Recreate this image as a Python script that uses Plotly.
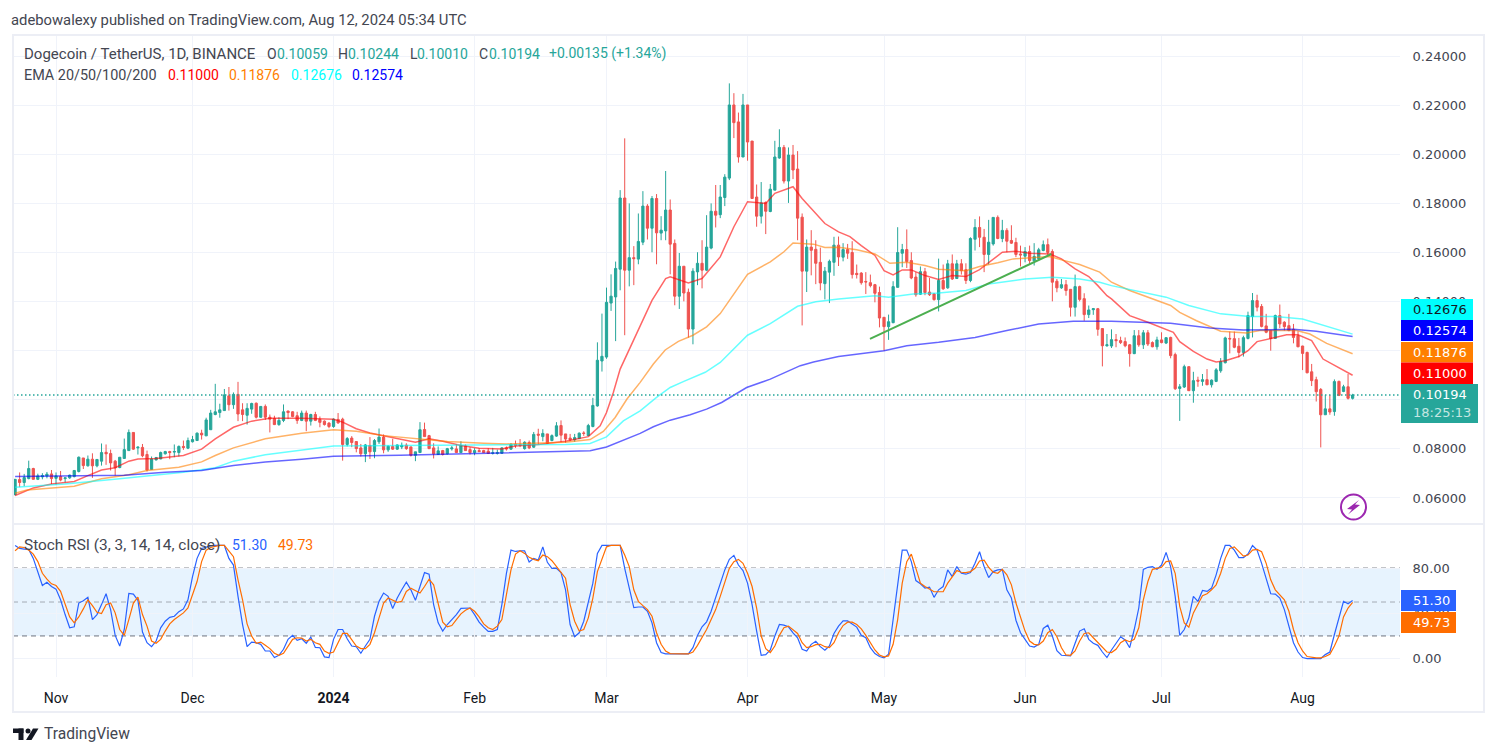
import pandas as pd
import plotly.graph_objects as go

START = "2023-10-23"

OPENS = [
    .0614,.0675,.0663,.0679,.0720,.0676,.0686,.0690,.0698,.0680,
    .0687,.0679,.0682,.0687,.0708,.0763,.0731,.0758,.0731,.0750,
    .0786,.0781,.0750,.0724,.0761,.0793,.0867,.0804,.0806,.0777,
    .0716,.0755,.0759,.0780,.0789,.0787,.0785,.0810,.0803,.0829,
    .0834,.0864,.0853,.0878,.0940,.0948,.0956,.1016,.0980,.1022,
    .0959,.0937,.0962,.0986,.0929,.0973,.0929,.0924,.0899,.0916,
    .0954,.0951,.0935,.0916,.0946,.0913,.0940,.0920,.0913,.0905,
    .0891,.0920,.0921,.0818,.0844,.0830,.0804,.0780,.0814,.0789,
    .0829,.0848,.0796,.0810,.0799,.0808,.0815,.0808,.0774,.0785,
    .0879,.0854,.0804,.0777,.0793,.0780,.0800,.0800,.0785,.0812,
    .0797,.0785,.0793,.0793,.0791,.0782,.0782,.0782,.0804,.0799,
    .0819,.0818,.0801,.0826,.0807,.0860,.0850,.0861,.0834,.0852,
    .0895,.0861,.0844,.0837,.0842,.0865,.0854,.0891,.0975,.1158,
    .1174,.1394,.1419,.1532,.1822,.1528,.1579,.1573,.1642,.1789,
    .1699,.1820,.1679,.1688,.1773,.1637,.1422,.1544,.1438,.1288,
    .1521,.1556,.1528,.1618,.1768,.1754,.1824,.1903,.2201,.2132,
    .1989,.2201,.2054,.1826,.1748,.1804,.1767,.1854,.1985,.2028,
    .1891,.1997,.1940,.1744,.1524,.1622,.1613,.1560,.1473,.1520,
    .1560,.1630,.1581,.1612,.1600,.1515,.1516,.1482,.1477,.1469,
    .1437,.1336,.1298,.1314,.1458,.1597,.1612,.1567,.1500,.1430,
    .1522,.1439,.1431,.1408,.1486,.1456,.1554,.1494,.1554,.1530,
    .1486,.1654,.1702,.1662,.1592,.1635,.1743,.1657,.1690,.1649,
    .1641,.1594,.1585,.1604,.1566,.1575,.1608,.1632,.1604,.1483,
    .1456,.1469,.1450,.1377,.1461,.1412,.1347,.1367,.1371,.1290,
    .1220,.1219,.1245,.1241,.1237,.1224,.1188,.1261,.1224,.1273,
    .1233,.1216,.1244,.1231,.1254,.1184,.1046,.1052,.1135,.1037,
    .1080,.1075,.1082,.1061,.1075,.1118,.1151,.1250,.1249,.1218,
    .1193,.1250,.1339,.1404,.1380,.1301,.1282,.1250,.1343,.1316,
    .1302,.1287,.1261,.1219,.1193,.1114,.1082,.1042,.0939,.0963,
    .0952,.1075,.1034,.1053,.10059,
]
HIGHS = [
    .0677,.0704,.0698,.0752,.0723,.0699,.0701,.0706,.0714,.0704,
    .0710,.0682,.0695,.0714,.0769,.0763,.0773,.0782,.0757,.0822,
    .0818,.0797,.0755,.0766,.0842,.0879,.0867,.0810,.0820,.0793,
    .0769,.0767,.0789,.0792,.0792,.0818,.0814,.0834,.0846,.0853,
    .0867,.0878,.0927,.0959,.1065,.0984,.1044,.1052,.1030,.1073,
    .0986,.0986,.0988,.0989,.0974,.0981,.0940,.0935,.0929,.0981,
    .0956,.0954,.0951,.0956,.0956,.0943,.0951,.0932,.0916,.0909,
    .0924,.0946,.0927,.0848,.0852,.0830,.0820,.0820,.0848,.0840,
    .0883,.0859,.0814,.0841,.0818,.0826,.0823,.0810,.0788,.0909,
    .0907,.0857,.0823,.0810,.0796,.0804,.0812,.0818,.0831,.0818,
    .0807,.0803,.0803,.0796,.0803,.0804,.0797,.0807,.0810,.0822,
    .0834,.0840,.0831,.0834,.0869,.0882,.0880,.0861,.0859,.0909,
    .0916,.0861,.0861,.0861,.0867,.0872,.0902,.1008,.1234,.1351,
    .1457,.1511,.1563,.1854,.2065,.1800,.1626,.1759,.1850,.1797,
    .1830,.1838,.1748,.1932,.1816,.1653,.1598,.1544,.1453,.1536,
    .1601,.1650,.1752,.1800,.1875,.1875,.1919,.2289,.2249,.2170,
    .2246,.2201,.2054,.1877,.1887,.1808,.1879,.2055,.2102,.2038,
    .2028,.2038,.2013,.1759,.1653,.1691,.1650,.1620,.1541,.1571,
    .1664,.1665,.1638,.1635,.1646,.1551,.1520,.1520,.1510,.1472,
    .1461,.1336,.1347,.1483,.1703,.1635,.1694,.1601,.1520,.1543,
    .1537,.1496,.1435,.1575,.1551,.1570,.1592,.1570,.1573,.1556,
    .1662,.1736,.1747,.1696,.1733,.1744,.1751,.1733,.1699,.1711,
    .1660,.1628,.1622,.1628,.1638,.1619,.1649,.1657,.1613,.1492,
    .1492,.1488,.1450,.1510,.1465,.1434,.1384,.1374,.1374,.1292,
    .1268,.1287,.1268,.1257,.1254,.1227,.1284,.1284,.1284,.1284,
    .1238,.1257,.1275,.1254,.1257,.1192,.1064,.1143,.1135,.1114,
    .1094,.1105,.1125,.1083,.1129,.1170,.1257,.1278,.1278,.1252,
    .1261,.1359,.1435,.1428,.1390,.1350,.1282,.1347,.1388,.1320,
    .1350,.1309,.1279,.1220,.1196,.1146,.1094,.1048,.1020,.1019,
    .1083,.1078,.1061,.1105,.10244,
]
LOWS = [
    .0610,.0644,.0648,.0676,.0675,.0673,.0676,.0680,.0657,.0655,
    .0668,.0663,.0678,.0684,.0704,.0718,.0728,.0682,.0725,.0732,
    .0735,.0712,.0691,.0721,.0761,.0793,.0796,.0777,.0766,.0708,
    .0714,.0753,.0758,.0777,.0758,.0766,.0769,.0796,.0799,.0826,
    .0833,.0838,.0853,.0878,.0937,.0927,.0956,.0956,.0963,.0913,
    .0913,.0899,.0943,.0924,.0927,.0918,.0867,.0897,.0894,.0909,
    .0921,.0929,.0902,.0913,.0872,.0895,.0913,.0888,.0895,.0884,
    .0886,.0902,.0752,.0810,.0807,.0786,.0769,.0746,.0759,.0762,
    .0820,.0782,.0788,.0796,.0796,.0799,.0796,.0769,.0750,.0785,
    .0850,.0799,.0761,.0777,.0773,.0777,.0793,.0784,.0784,.0792,
    .0777,.0774,.0789,.0784,.0780,.0777,.0777,.0780,.0793,.0796,
    .0804,.0807,.0797,.0799,.0804,.0818,.0831,.0820,.0831,.0849,
    .0827,.0825,.0831,.0829,.0840,.0853,.0854,.0888,.0972,.1115,
    .1167,.1362,.1239,.1446,.1263,.1462,.1467,.1552,.1630,.1653,
    .1601,.1552,.1650,.1650,.1511,.1385,.1370,.1401,.1253,.1226,
    .1467,.1454,.1524,.1613,.1702,.1740,.1789,.1895,.2066,.1966,
    .1989,.1974,.1820,.1705,.1718,.1675,.1764,.1854,.1982,.1881,
    .1802,.1899,.1650,.1303,.1439,.1507,.1471,.1446,.1409,.1394,
    .1505,.1545,.1564,.1574,.1494,.1494,.1469,.1431,.1458,.1397,
    .1295,.1200,.1244,.1312,.1458,.1540,.1537,.1491,.1420,.1427,
    .1426,.1423,.1404,.1360,.1448,.1452,.1488,.1492,.1510,.1472,
    .1479,.1608,.1622,.1520,.1551,.1628,.1654,.1642,.1601,.1635,
    .1581,.1543,.1560,.1551,.1547,.1567,.1605,.1586,.1401,.1438,
    .1452,.1424,.1339,.1339,.1401,.1322,.1333,.1346,.1261,.1136,
    .1216,.1211,.1214,.1227,.1214,.1135,.1186,.1216,.1207,.1219,
    .1214,.1204,.1230,.1227,.1169,.1040,.0914,.1048,.1037,.0988,
    .1053,.1057,.1060,.1050,.1072,.1110,.1148,.1189,.1210,.1173,
    .1176,.1246,.1254,.1360,.1295,.1271,.1200,.1248,.1292,.1282,
    .1279,.1230,.1214,.1121,.1108,.1056,.0993,.0806,.0939,.0939,
    .0935,.1015,.1031,.1001,.10010,
]
CLOSES = [
    .0676,.0663,.0683,.0720,.0676,.0690,.0691,.0697,.0679,.0690,
    .0673,.0682,.0693,.0712,.0766,.0732,.0758,.0731,.0757,.0785,
    .0780,.0743,.0723,.0766,.0797,.0867,.0799,.0807,.0772,.0714,
    .0759,.0765,.0785,.0789,.0785,.0789,.0810,.0806,.0834,.0838,
    .0864,.0857,.0918,.0946,.0951,.0959,.1020,.0980,.1022,.0942,
    .0940,.0965,.0985,.0929,.0973,.0929,.0921,.0899,.0916,.0951,
    .0948,.0932,.0916,.0946,.0913,.0940,.0916,.0908,.0899,.0891,
    .0921,.0906,.0818,.0842,.0826,.0801,.0780,.0816,.0788,.0834,
    .0848,.0796,.0811,.0799,.0816,.0814,.0801,.0774,.0788,.0878,
    .0850,.0801,.0780,.0792,.0777,.0801,.0804,.0785,.0814,.0793,
    .0785,.0793,.0789,.0785,.0781,.0784,.0784,.0804,.0800,.0819,
    .0815,.0814,.0827,.0804,.0859,.0856,.0863,.0823,.0854,.0894,
    .0856,.0840,.0837,.0846,.0864,.0863,.0895,.0977,.1161,.1177,
    .1397,.1422,.1535,.1822,.1528,.1579,.1575,.1645,.1789,.1699,
    .1820,.1680,.1691,.1773,.1634,.1422,.1544,.1435,.1288,.1524,
    .1556,.1528,.1622,.1768,.1752,.1826,.1907,.2201,.2129,.1989,
    .2201,.2050,.1820,.1748,.1802,.1768,.1858,.1989,.2028,.1891,
    .1997,.1936,.1740,.1524,.1622,.1609,.1556,.1476,.1524,.1564,
    .1630,.1582,.1612,.1597,.1510,.1510,.1477,.1480,.1465,.1434,
    .1333,.1298,.1318,.1461,.1600,.1612,.1563,.1496,.1428,.1522,
    .1437,.1428,.1408,.1486,.1452,.1554,.1492,.1554,.1526,.1486,
    .1657,.1702,.1662,.1592,.1642,.1743,.1657,.1690,.1646,.1638,
    .1592,.1590,.1604,.1567,.1584,.1611,.1632,.1600,.1479,.1456,
    .1469,.1445,.1377,.1461,.1409,.1347,.1366,.1371,.1287,.1220,
    .1224,.1245,.1241,.1233,.1220,.1188,.1261,.1224,.1273,.1227,
    .1216,.1244,.1233,.1253,.1180,.1045,.1053,.1135,.1037,.1078,
    .1076,.1082,.1061,.1080,.1122,.1155,.1252,.1248,.1214,.1193,
    .1253,.1343,.1404,.1377,.1299,.1275,.1250,.1343,.1309,.1298,
    .1282,.1254,.1216,.1189,.1110,.1078,.1033,.0939,.0963,.0950,
    .1074,.1018,.1053,.1006,.10194,
]

# Moving averages, sampled at the sessions where each curve bends
EMA20_DAY = [0,4,8,13,16,19,22,25,27,31,37,41,44,48,52,56,63,70,72,75,78,81,85,88,91,94,98,102,107,110,115,121,126,
             128.6,130,131.5,133,137,140,143,144,148,151,155,158,161,165,167,171,173,176,178,181,183.5,186,189,191,193,
             195,197,200,203,206,209,212,215,217,220,223,227.5,230,233,236,238,240,241,245,249,253,254.6,256,259,262,
             264,266,269,271,273,276.5,279.5,282,285,287.5,290.5,294]
EMA20 = [.0610,.0641,.0657,.0667,.0691,.0714,.0723,.0750,.0759,.0761,.0773,.0799,.0841,.0888,.0913,.0925,.0925,.0921,
         .0909,.0882,.0865,.0854,.0841,.0827,.0841,.0831,.0814,.0803,.0800,.0812,.0818,.0831,.0850,
         .0894,.0948,.1030,.1125,.1283,.1405,.1494,.1501,.1476,.1494,.1582,.1705,.1807,.1800,.1841,.1868,.1820,.1759,
         .1718,.1684,.1665,.1628,.1588,.1526,.1509,.1529,.1529,.1506,.1490,.1506,.1502,.1530,.1574,.1601,.1605,.1597,
         .1594,.1574,.1533,.1502,.1465,.1424,.1411,.1343,.1316,.1288,.1275,.1237,.1197,.1166,.1154,.1159,.1176,.1200,
         .1237,.1252,.1265,.1265,.1241,.1166,.1135,.11000]
EMA50_DAY = [0,2.6,13,19,25,29,36,41,44,48,55,63,70,75,81,88,95,103,108,114,121,126.4,129.3,131.9,134.5,137.4,140.3,
             142.9,145.8,149,152,155,158,161,166,169,171,175.5,178,181,185,189,192.3,196,200,203,209,212,216,219.4,
             227.5,230,234,238.4,241,245,254,256,259.7,265,270.7,273.6,281.7,284.6,288.3,294]
EMA50 = [.0619,.0633,.0648,.0678,.0695,.0712,.0725,.0747,.0773,.0804,.0841,.0864,.0878,.0872,.0854,.0841,.0830,.0823,
         .0820,.0823,.0827,.0838,.0871,.0928,.1003,.1071,.1146,.1203,.1238,.1263,.1297,.1351,.1433,.1511,.1562,.1603,
         .1639,.1634,.1620,.1621,.1611,.1594,.1556,.1560,.1547,.1532,.1526,.1543,.1558,.1574,.1584,.1570,.1551,.1520,
         .1479,.1445,.1384,.1356,.1322,.1279,.1272,.1282,.1282,.1268,.1230,.11876]
EMA100_DAY = [0,4,11,23,30,37,44,48,55,63,70,84.6,99,108,121,126.4,130,133.7,137.4,141,144,147,151.7,155,161,166,170,
              172,176,181,189,192,197.4,203,209,214,222,228,234,238.4,241,253,258,265,271.4,277,283,287,294]
EMA100 = [.0644,.0648,.0657,.0678,.0691,.0705,.0723,.0750,.0776,.0796,.0812,.0814,.0815,.0818,.0818,.0822,.0849,.0914,
          .0955,.1010,.1050,.1075,.1112,.1152,.1263,.1310,.1358,.1381,.1399,.1411,.1424,.1418,.1431,.1435,.1445,.1472,
          .1492,.1499,.1492,.1479,.1465,.1418,.1384,.1350,.1339,.1339,.1329,.1306,.12676]
EMA200_DAY = [0,11,24,33,41,48,55,63,70,84.6,99,114,126.4,130,133.7,137.4,140.3,144,148.4,152,155.3,160.8,166,172.6,
              175.5,181,191,196,203,211,218,225,232.6,241,254,262.6,270,281,286,294]
EMA200 = [.0687,.0690,.0693,.0705,.0712,.0732,.0747,.0758,.0770,.0774,.0780,.0786,.0792,.0808,.0837,.0863,.0890,.0917,
          .0939,.0962,.0989,.1050,.1084,.1139,.1154,.1176,.1200,.1220,.1234,.1254,.1282,.1309,.1320,.1320,.1312,.1292,
          .1284,.1287,.1279,.12574]

STOCH_K = [
    100,97.4,96.8,96.5,88.6,76.9,64.6,67.5,63.7,61.4,52.0,38.9,27.2,28.1,49.1,51.2,54.1,34.5,38.9,47.7,
    57.3,43.3,20.5,11.1,25.7,57.6,57.0,51.5,23.4,14.0,10.5,15.5,27.2,33.0,36.5,37.4,41.5,43.9,52.0,72.5,
    88.6,97.4,98.8,99.7,100,100,100,88.6,82.7,55.0,30.1,10.5,14.6,14.0,12.6,6.7,6.7,0.9,2.9,8.2,
    17.0,20.5,16.1,17.5,13.5,19.0,9.9,9.6,1.5,0.9,17.0,25.7,25.7,17.5,11.1,10.5,4.7,11.1,17.0,37.4,
    50.6,57.9,55.0,44.2,53.5,60.8,67.5,60.8,51.5,63.7,76.0,74.6,47.7,31.6,24.3,30.1,34.5,38.9,44.4,44.4,
    44.7,38.9,32.2,27.8,24.0,24.0,25.7,47.7,75.4,95.9,94.7,95.3,95.3,85.4,88.6,87.1,98.8,85.1,79.8,79.8,
    76.0,60.8,30.1,19.3,22.8,33.0,50.6,66.7,93.0,100,100,100,100,100,79.8,63.7,45.0,45.6,45.6,41.8,
    31.6,14.0,5.3,4.1,4.1,4.1,4.1,4.1,4.1,9.6,20.5,28.1,32.5,41.8,53.5,65.2,78.4,87.7,91.2,82.7,
    77.8,66.7,47.7,24.3,2.9,3.5,7.6,19.9,30.1,29.5,28.1,22.8,18.4,8.2,6.7,12.6,15.2,10.5,7.3,11.1,
    22.2,28.7,33.3,33.3,30.4,27.8,20.5,18.4,9.6,4.4,1.8,0.6,3.8,34.5,65.2,95.9,95.9,85.7,69.0,66.1,
    62.3,63.2,54.1,60.8,63.7,78.4,72.5,81.3,75.4,74.6,76.0,84.2,94.4,81.3,71.6,76.9,78.4,78.9,60.8,53.5,
    33.9,22.8,17.0,11.1,10.2,12.6,26.6,29.5,19.9,7.0,2.9,2.3,2.3,13.5,24.3,26.3,17.0,13.5,11.7,5.8,
    0.9,7.6,14.0,19.3,16.4,9.6,25.7,44.7,78.9,80.7,81.3,78.9,82.7,93.9,81.3,55.0,20.5,25.7,36.0,55.0,
    50.6,60.2,59.4,62.3,74.0,88.6,100,100,95.9,89.2,89.2,92.4,100,95.9,84.2,71.1,57.3,57.0,53.5,43.3,
    28.7,14.0,5.8,0.9,0,0,0,0,3.5,5.8,21.3,35.1,50.6,48.5,51.30,
]
STOCH_D = [
    95.3,98.8,98.2,95.9,92.4,85.7,75.4,70.2,66.1,64.6,59.4,47.7,36.8,31.6,36.8,43.9,52.0,46.8,40.9,39.8,
    47.7,49.1,40.4,25.7,20.5,34.5,49.1,54.4,38.9,28.7,15.5,13.5,17.0,24.3,30.7,34.5,37.4,40.4,44.7,56.4,
    68.1,85.7,95.9,98.2,99.4,100,100,95.3,90.1,69.6,52.0,30.7,19.9,13.5,14.6,11.7,8.8,4.7,2.9,4.7,
    10.5,17.0,18.4,18.1,15.5,17.0,14.0,12.6,6.7,4.7,5.8,14.0,22.2,22.2,17.0,11.1,8.8,8.8,12.6,22.8,
    36.0,49.1,53.5,51.5,49.7,50.6,59.4,62.3,59.9,57.9,63.7,70.2,65.2,47.7,32.2,28.1,29.2,34.5,39.5,42.7,
    44.7,41.8,36.8,30.7,27.2,25.7,28.7,34.5,56.4,78.4,92.4,95.3,93.0,89.5,87.7,86.5,91.5,90.1,86.5,81.3,
    76.9,71.1,47.7,33.0,24.3,25.7,36.0,53.5,76.9,88.6,98.8,100,100,100,91.5,81.3,60.8,50.6,46.8,43.3,
    37.4,22.8,12.6,6.7,4.4,4.1,4.1,4.1,4.1,5.8,11.7,18.4,25.7,34.5,43.3,55.0,68.1,79.8,85.7,87.7,
    84.2,75.4,63.7,44.7,19.9,8.8,5.3,11.1,20.5,27.2,28.7,25.7,22.2,14.0,9.6,10.5,12.3,12.6,10.5,9.6,
    14.0,22.8,29.2,32.2,32.2,30.1,26.3,20.5,14.0,7.6,3.2,1.5,2.3,12.6,34.5,66.7,85.7,92.4,79.8,66.7,
    63.7,61.4,59.1,59.1,59.1,66.7,72.5,77.8,76.3,76.0,76.9,79.8,86.3,87.1,80.7,76.3,75.4,78.9,74.0,65.2,
    49.1,36.8,24.3,15.5,12.6,12.0,15.5,22.8,25.7,19.3,9.6,3.2,2.9,6.7,15.5,22.2,22.8,18.4,14.0,10.5,
    5.8,5.3,8.2,14.0,16.4,14.9,17.0,27.2,52.0,68.1,78.9,79.8,80.7,85.7,86.3,75.4,46.2,31.6,27.8,40.4,
    47.7,55.6,57.3,60.8,65.2,75.4,88.6,97.4,98.8,94.4,90.6,91.5,95.9,96.5,94.4,84.2,69.6,60.8,56.4,52.0,
    41.8,25.7,14.0,6.7,1.8,0.9,0.6,0.6,1.8,3.8,11.1,19.9,36.8,44.7,49.73,
]

TREND_DATES = ["2024-04-27 22:00", "2024-06-06 19:00"]
TREND_PRICES = [.1248, .1594]

MONTH_TICKS = ["2023-11-01", "2023-12-01", "2024-01-01", "2024-02-01", "2024-03-01",
               "2024-04-01", "2024-05-01", "2024-06-01", "2024-07-01", "2024-08-01"]
MONTH_LABELS = ["Nov", "Dec", "<b>2024</b>", "Feb", "Mar", "Apr", "May", "Jun", "Jul", "Aug"]
PRICE_TICKS = [.06, .08, .10, .12, .14, .16, .18, .20, .22, .24]
# The 0.10000 label sits fully behind the last-price tag, so it stays blank
PRICE_LABELS = ["0.06000", "0.08000", "", "0.12000", "0.14000", "0.16000", "0.18000", "0.20000", "0.22000", "0.24000"]
RSI_TICKS = [0, 40, 80]

for series in (OPENS, HIGHS, LOWS, CLOSES, STOCH_K, STOCH_D):
    assert len(series) == 295, len(series)

dates = pd.date_range(START, periods=len(CLOSES), freq="D")


def day_to_date(days):
    return [pd.Timestamp(START) + pd.Timedelta(days=d) for d in days]


GREEN, RED = "#26a69a", "#ef5350"
INK = "#434651"
WIDTH, HEIGHT = 1496, 756
LEFT, RIGHT, TOP, BOTTOM = 13, 1400, 35, 677
PLOT_W, PLOT_H = RIGHT - LEFT, BOTTOM - TOP
X_RANGE = ["2023-10-22 13:00", "2024-08-22 10:00"]
UI_FONT = "Roboto"
AXIS_FONT = "DejaVu Sans"


def px(x):
    return (x - LEFT) / PLOT_W


def py(y):
    return 1 - (y - TOP) / PLOT_H


fig = go.Figure()

fig.add_trace(go.Candlestick(
    x=dates, open=OPENS, high=HIGHS, low=LOWS, close=CLOSES,
    xaxis="x2", yaxis="y",
    increasing=dict(line=dict(color=GREEN, width=1), fillcolor=GREEN),
    decreasing=dict(line=dict(color=RED, width=1), fillcolor=RED),
    whiskerwidth=0, hoverinfo="skip", showlegend=False,
))

for days, vals, color in [
    (EMA20_DAY, EMA20, "rgba(255,0,0,0.6)"),
    (EMA50_DAY, EMA50, "rgba(255,127,0,0.6)"),
    (EMA100_DAY, EMA100, "rgba(0,255,255,0.6)"),
    (EMA200_DAY, EMA200, "rgba(0,0,255,0.6)"),
]:
    fig.add_trace(go.Scatter(x=day_to_date(days), y=vals, mode="lines", xaxis="x2", yaxis="y",
                             line=dict(color=color, width=1.5), hoverinfo="skip", showlegend=False))

fig.add_trace(go.Scatter(x=TREND_DATES, y=TREND_PRICES, mode="lines", xaxis="x2", yaxis="y",
                         line=dict(color="#4caf50", width=2), hoverinfo="skip", showlegend=False))

# Last-close price line
fig.add_trace(go.Scatter(x=X_RANGE, y=[CLOSES[-1], CLOSES[-1]], mode="lines", xaxis="x2", yaxis="y",
                         line=dict(color=GREEN, width=1.4, dash="1.5px 2.5px"), hoverinfo="skip", showlegend=False))

fig.add_trace(go.Scatter(x=dates, y=STOCH_K, mode="lines", xaxis="x", yaxis="y2",
                         line=dict(color="#2962ff", width=1.2), hoverinfo="skip", showlegend=False))
fig.add_trace(go.Scatter(x=dates, y=STOCH_D, mode="lines", xaxis="x", yaxis="y2",
                         line=dict(color="#ff6d00", width=1.2), hoverinfo="skip", showlegend=False))

shapes = [
    # Stochastic RSI band and its levels
    dict(type="rect", xref="paper", yref="y2", x0=0, x1=1, y0=20, y1=80, layer="below",
         fillcolor="rgba(33,150,243,0.11)", line=dict(width=0)),
]
for level, color in [(80, "#6f727d"), (50, "rgba(120,123,134,0.6)"), (20, "#6f727d")]:
    shapes.append(dict(type="line", xref="paper", yref="y2", x0=0, x1=1, y0=level, y1=level, layer="below",
                       line=dict(color=color, width=1, dash="5px 4px")))


def rect(x0, y0, x1, y1, fill=None, line=None):
    return dict(type="rect", xref="paper", yref="paper", x0=px(x0), x1=px(x1), y0=py(y0), y1=py(y1),
                fillcolor=fill or "rgba(0,0,0,0)", line=line or dict(width=0), layer="above")


def path(points, fill):
    d = "M " + " L ".join(f"{px(x)} {py(y)}" for x, y in points) + " Z"
    return dict(type="path", xref="paper", yref="paper", path=d, fillcolor=fill, line=dict(width=0), layer="above")


# Outer frame and pane divider
FRAME = dict(color="#eceef5", width=2)
shapes.append(rect(13, 35, 1484, 712, line=FRAME))
shapes.append(dict(type="line", xref="paper", yref="paper", x0=px(13), x1=px(1484), y0=py(524), y1=py(524),
                   line=FRAME, layer="above"))

annotations = []


def text(x, y, s, color=INK, size=14, font=UI_FONT, anchor="left"):
    annotations.append(dict(xref="paper", yref="paper", x=px(x), y=py(y), text=s, showarrow=False,
                            xanchor=anchor, yanchor="middle", xshift=0, yshift=0, align="left",
                            font=dict(family=font, size=size, color=color), borderpad=0))


# Price and oscillator value tags on the right-hand scale
for y0, y1, fill, label, color in [
    (299, 320, "#00ffff", "0.12676", "#131722"),
    (320, 341, "#0000ff", "0.12574", "#ffffff"),
    (342, 362.5, "#ff7f00", "0.11876", "#ffffff"),
    (362.5, 384, "#ff0000", "0.11000", "#ffffff"),
]:
    shapes.append(rect(1401, y0, 1473, y1, fill=fill))
    text(1412, (y0 + y1) / 2, label, color=color, size=13, font=AXIS_FONT)

shapes.append(rect(1401, 384, 1478, 423, fill=GREEN))
text(1412, 394.5, "0.10194", color="#ffffff", size=13, font=AXIS_FONT)
text(1412, 412.5, "18:25:13", color="#c4e6e2", size=13, font=AXIS_FONT)

shapes.append(rect(1401, 590, 1456, 611, fill="#2962ff"))
text(1412, 600.5, "51.30", color="#ffffff", size=13, font=AXIS_FONT)
shapes.append(rect(1401, 612, 1456, 633, fill="#ff6d00"))
text(1412, 622.5, "49.73", color="#ffffff", size=13, font=AXIS_FONT)

# Lightning badge
shapes.append(dict(type="circle", xref="paper", yref="paper", x0=px(1341), x1=px(1366), y0=py(494.5), y1=py(519.5),
                   line=dict(color="#9c27b0", width=2), fillcolor="rgba(255,255,255,0)", layer="above"))
shapes.append(path([(1359, 500), (1347, 509), (1352, 509.5), (1348, 514.5), (1360, 505), (1355, 504.5)], "#9c27b0"))

# TradingView mark
LOGO = "#131722"
shapes.append(rect(13, 728.5, 23.5, 733, fill=LOGO))
shapes.append(rect(18.5, 728.5, 23.5, 740, fill=LOGO))
shapes.append(dict(type="circle", xref="paper", yref="paper", x0=px(25.5), x1=px(30.5), y0=py(728.5), y1=py(733.5),
                   fillcolor=LOGO, line=dict(width=0), layer="above"))
shapes.append(path([(33, 728.5), (38.5, 728.5), (31.5, 740), (26, 740)], LOGO))
text(43, 734, "TradingView", color=INK, size=15.6)

# Header and legends
text(10, 20, "adebowalexy published on TradingView.com, Aug 12, 2024 05:34 UTC", size=14.8)
text(23, 54, "Dogecoin / TetherUS, 1D, BINANCE", size=15)
for x, s in [(266, "O"), (337, "H"), (408.5, "L"), (477.5, "C")]:
    text(x, 54, s)
for x, s in [(275.5, "0.10059"), (347, "0.10244"), (416, "0.10010"), (487.5, "0.10194"), (548, "+0.00135 (+1.34%)")]:
    text(x, 54, s, color=GREEN)
text(23, 75, "EMA 20/50/100/200", size=14.4)
for x, s, color in [(166.5, "0.11000", "#ff0000"), (227.7, "0.11876", "#ff7f00"),
                    (290, "0.12676", "#00ffff"), (351, "0.12574", "#0000ff")]:
    text(x, 75, s, color=color)
text(23, 545, "Stoch RSI (3, 3, 14, 14, close)", size=15.4)
text(231, 545, "51.30", color="#2962ff")
text(277, 545, "49.73", color="#ff6d00")

GRID = "#f0f3fa"
fig.update_layout(
    width=WIDTH, height=HEIGHT, autosize=False,
    margin=dict(l=LEFT, r=WIDTH - RIGHT, t=TOP, b=HEIGHT - BOTTOM, pad=0),
    paper_bgcolor="#ffffff", plot_bgcolor="#ffffff",
    showlegend=False, hovermode=False, dragmode=False,
    shapes=shapes, annotations=annotations,
    xaxis=dict(domain=[0, 1], anchor="y2", type="date", range=X_RANGE, rangeslider=dict(visible=False),
               tickmode="array", tickvals=MONTH_TICKS, ticktext=MONTH_LABELS,
               showgrid=True, gridcolor=GRID, gridwidth=1, zeroline=False, showline=False,
               ticks="outside", ticklen=8, tickcolor="rgba(0,0,0,0)",
               tickfont=dict(family=UI_FONT, size=14, color="#131722")),
    xaxis2=dict(domain=[0, 1], anchor="y", matches="x", type="date", range=X_RANGE,
                rangeslider=dict(visible=False), tickmode="array", tickvals=MONTH_TICKS, showticklabels=False,
                showgrid=True, gridcolor=GRID, gridwidth=1, zeroline=False, showline=False, ticks=""),
    yaxis=dict(domain=[(BOTTOM - 524) / PLOT_H, 1], anchor="x2", side="right",
               range=[0.0494, 0.2486], tickmode="array", tickvals=PRICE_TICKS, ticktext=PRICE_LABELS,
               showgrid=True, gridcolor=GRID, gridwidth=1, zeroline=False, showline=False,
               ticks="outside", ticklen=9, tickcolor="rgba(0,0,0,0)",
               tickfont=dict(family=AXIS_FONT, size=13, color=INK)),
    yaxis2=dict(domain=[0, (BOTTOM - 525) / PLOT_H], anchor="x", side="right",
                range=[-16.3, 118.1], tickmode="array", tickvals=RSI_TICKS, tickformat=".2f",
                showgrid=True, gridcolor=GRID, gridwidth=1, zeroline=False, showline=False,
                ticks="outside", ticklen=9, tickcolor="rgba(0,0,0,0)",
                tickfont=dict(family=AXIS_FONT, size=13, color=INK)),
)

fig.write_html("out.html", config={"displayModeBar": False})
